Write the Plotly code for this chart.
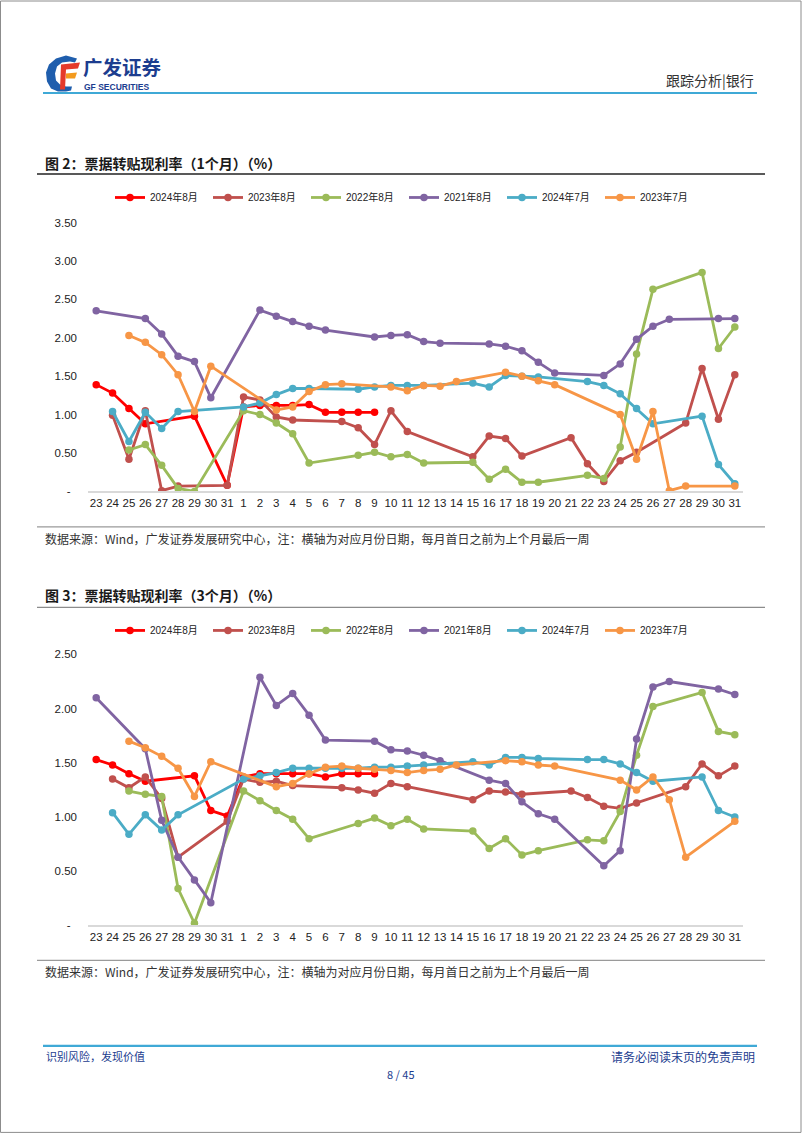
import plotly.graph_objects as go

W, H = 802, 1133

day_labels = ["23", "24", "25", "26", "27", "28", "29", "30", "31",
              "1", "2", "3", "4", "5", "6", "7", "8", "9", "10", "11", "12", "13", "14", "15",
              "16", "17", "18", "19", "20", "21", "22", "23", "24", "25", "26", "27", "28",
              "29", "30", "31"]
series_names = ["2024年8月", "2023年8月", "2022年8月", "2021年8月", "2024年7月", "2023年7月"]
series_colors = ["#FF0000", "#C0504D", "#9BBB59", "#8064A2", "#4BACC6", "#F79646"]
N = None

# ---- 图2: 1个月 ----
m1_2024_08 = [1.39, 1.28, 1.08, 0.88, N, N, 0.98, N, 0.08,
              1.10, 1.12, 1.12, 1.12, 1.13, 1.03, 1.03, 1.03, 1.03, N, N, N, N, N, N,
              N, N, N, N, N, N, N, N, N, N, N, N, N, N, N, N]
m1_2023_08 = [N, 0.99, 0.42, 1.05, 0.01, 0.07, N, N, 0.08,
              1.23, 1.19, 0.97, 0.93, N, N, 0.91, 0.83, 0.61, 1.05, 0.78, N, N, N, 0.45,
              0.72, 0.69, 0.46, N, N, 0.70, 0.36, 0.13, 0.40, 0.51, N, N, 0.89, 1.60, 0.94, 1.52]
m1_2022_08 = [N, N, 0.54, 0.61, 0.34, 0.04, 0.00, N, N,
              1.05, 1.00, 0.89, 0.75, 0.37, N, N, 0.47, 0.51, 0.45, 0.48, 0.37, N, N, 0.38,
              0.16, 0.29, 0.12, 0.12, N, N, 0.21, 0.17, 0.58, 1.79, 2.63, N, N, 2.85, 1.86, 2.14]
m1_2021_08 = [2.35, N, N, 2.25, 2.05, 1.76, 1.69, 1.22, N,
              N, 2.36, 2.28, 2.21, 2.15, 2.10, N, N, 2.01, 2.03, 2.04, 1.95, 1.93, N, N,
              1.92, 1.89, 1.83, 1.68, 1.54, N, N, 1.51, 1.66, 1.98, 2.15, 2.24, N, N, 2.25, 2.25]
m1_2024_07 = [N, 1.04, 0.65, 1.03, 0.82, 1.04, N, N, N,
              1.10, 1.15, 1.26, 1.34, 1.34, N, N, 1.33, 1.36, 1.38, 1.38, 1.38, N, N, 1.41,
              1.36, 1.51, 1.50, 1.49, N, N, 1.43, 1.38, 1.27, 1.08, 0.88, N, N, 0.98, 0.35, 0.10]
m1_2023_07 = [N, N, 2.03, 1.94, 1.78, 1.52, 1.04, 1.63, N,
              N, N, 1.06, 1.10, 1.30, 1.39, 1.40, N, N, 1.36, 1.31, 1.38, 1.37, 1.43, N,
              N, 1.55, 1.50, 1.44, 1.39, N, N, N, 1.00, 0.42, 1.04, 0.01, 0.07, N, N, 0.07]

# ---- 图3: 3个月 ----
m3_2024_08 = [1.53, 1.48, 1.40, 1.33, N, N, 1.38, 1.06, 1.01,
              1.37, 1.40, 1.40, 1.40, 1.40, 1.37, 1.40, 1.40, 1.40, N, N, N, N, N, N,
              N, N, N, N, N, N, N, N, N, N, N, N, N, N, N, N]
m3_2023_08 = [N, 1.35, 1.27, 1.37, 1.17, 0.63, N, N, 0.96,
              1.35, 1.32, 1.33, 1.29, N, N, 1.27, 1.25, 1.22, 1.31, 1.28, N, N, N, 1.16,
              1.24, 1.23, 1.21, N, N, 1.24, 1.18, 1.10, 1.08, 1.13, N, N, 1.28, 1.49, 1.38, 1.47]
m3_2022_08 = [N, N, 1.24, 1.21, 1.19, 0.34, 0.02, N, N,
              1.24, 1.15, 1.06, 0.98, 0.80, N, N, 0.94, 0.99, 0.92, 0.98, 0.89, N, N, 0.87,
              0.71, 0.80, 0.65, 0.69, N, N, 0.79, 0.78, 1.05, 1.57, 2.02, N, N, 2.15, 1.79, 1.76]
m3_2021_08 = [2.10, N, N, 1.63, 0.97, 0.63, 0.42, 0.21, N,
              N, 2.29, 2.03, 2.14, 1.94, 1.71, N, N, 1.70, 1.62, 1.61, 1.57, 1.52, N, N,
              1.34, 1.31, 1.14, 1.03, 0.98, N, N, 0.55, 0.69, 1.72, 2.20, 2.25, N, N, 2.18, 2.13]
m3_2024_07 = [N, 1.04, 0.84, 1.02, 0.88, 1.02, N, N, N,
              1.35, 1.38, 1.41, 1.45, 1.45, 1.45, 1.45, 1.45, 1.46, 1.46, 1.47, 1.48, N, N, 1.51,
              1.48, 1.55, 1.55, 1.54, N, N, 1.53, 1.53, 1.49, 1.41, 1.33, N, N, 1.37, 1.06, 1.00]
m3_2023_07 = [N, N, 1.70, 1.64, 1.56, 1.45, 1.19, 1.51, N,
              N, N, 1.28, 1.31, 1.40, 1.46, 1.47, 1.45, 1.44, 1.43, 1.41, 1.43, 1.44, 1.48, N,
              N, 1.52, 1.51, 1.48, 1.47, N, N, N, 1.34, 1.25, 1.37, 1.16, 0.63, N, N, 0.96]

chart1_series = [m1_2024_08, m1_2023_08, m1_2022_08, m1_2021_08, m1_2024_07, m1_2023_07]
chart2_series = [m3_2024_08, m3_2023_08, m3_2022_08, m3_2021_08, m3_2024_07, m3_2023_07]
y1_ticks = [0, 0.5, 1.0, 1.5, 2.0, 2.5, 3.0, 3.5]
y2_ticks = [0, 0.5, 1.0, 1.5, 2.0, 2.5]


def px(x):
    return x / W


def py(y):
    # page pixel (from top) -> paper fraction, compensating the slight vertical fit of the capture
    return 1 - ((y - 5.5) / 0.9895) / H


xs = list(range(len(day_labels)))
fig = go.Figure()

for k, (name, color) in enumerate(zip(series_names, series_colors)):
    fig.add_trace(go.Scatter(
        x=xs, y=chart1_series[k], name=name, mode="lines+markers", connectgaps=True,
        line=dict(color=color, width=2.8), marker=dict(color=color, size=7.5),
        xaxis="x", yaxis="y", legend="legend"))
for k, (name, color) in enumerate(zip(series_names, series_colors)):
    fig.add_trace(go.Scatter(
        x=xs, y=chart2_series[k], name=name, mode="lines+markers", connectgaps=True,
        line=dict(color=color, width=2.8), marker=dict(color=color, size=7.5),
        xaxis="x2", yaxis="y2", legend="legend2"))

tick_font = dict(family="Liberation Sans, Arial, sans-serif", size=11.5, color="#222222")


def ylabels(vals):
    return ["-\u2007" if v == 0 else f"{v:.2f}" for v in vals]


xaxis_common = dict(range=[-0.5, len(day_labels) - 0.5], tickmode="array", tickvals=xs,
                    ticktext=day_labels, showgrid=False, zeroline=False, showline=True,
                    linecolor="#D9D9D9", linewidth=2, ticks="", tickfont=tick_font,
                    fixedrange=True)
yaxis_common = dict(showgrid=False, zeroline=False, showline=False, ticks="",
                    tickfont=tick_font, fixedrange=True, ticklabelstandoff=10)

leg_font = dict(family="Liberation Sans, Noto Sans CJK SC", size=10, color="#222")
fig.update_layout(
    width=W, height=H, margin=dict(l=0, r=0, t=0, b=0),
    paper_bgcolor="white", plot_bgcolor="white",
    xaxis=dict(domain=[px(88), px(743)], anchor="y", **xaxis_common),
    yaxis=dict(domain=[py(491), py(222)], anchor="x", range=[0, 3.5], tickmode="array",
               tickvals=y1_ticks, ticktext=ylabels(y1_ticks), **yaxis_common),
    xaxis2=dict(domain=[px(88), px(743)], anchor="y2", **xaxis_common),
    yaxis2=dict(domain=[py(925), py(654)], anchor="x2", range=[0, 2.5], tickmode="array",
                tickvals=y2_ticks, ticktext=ylabels(y2_ticks), **yaxis_common),
    legend=dict(orientation="h", x=px(110), xanchor="left", y=py(197), yanchor="middle",
                font=leg_font, entrywidth=53, entrywidthmode="pixels", itemwidth=30,
                bgcolor="rgba(0,0,0,0)"),
    legend2=dict(orientation="h", x=px(110), xanchor="left", y=py(630), yanchor="middle",
                 font=leg_font, entrywidth=53, entrywidthmode="pixels", itemwidth=30,
                 bgcolor="rgba(0,0,0,0)"),
    showlegend=True,
)

shapes = []
# page border
shapes.append(dict(type="rect", xref="paper", yref="paper", x0=px(0.5), x1=px(801), y0=py(1132), y1=py(0.5),
                   line=dict(color="#8C8C8C", width=1), fillcolor="rgba(0,0,0,0)"))
# header / footer blue rules
for yy in (92.5, 1045.5):
    shapes.append(dict(type="line", xref="paper", yref="paper", x0=px(43), x1=px(757), y0=py(yy), y1=py(yy),
                       line=dict(color="#3FA9D6", width=2.2)))
# title rules and bottom rules
shapes.append(dict(type="line", xref="paper", yref="paper", x0=px(37), x1=px(765), y0=py(173.5), y1=py(173.5),
                   line=dict(color="#222222", width=1.3)))
shapes.append(dict(type="line", xref="paper", yref="paper", x0=px(37), x1=px(765), y0=py(607), y1=py(607),
                   line=dict(color="#8C8C8C", width=1.3)))
for yy in (526.5, 960):
    shapes.append(dict(type="line", xref="paper", yref="paper", x0=px(37), x1=px(765), y0=py(yy), y1=py(yy),
                       line=dict(color="#9A9A9A", width=1.2)))


# logo icon (approximate)
def path(pts):
    s = "M " + " L ".join(f"{px(a):.5f},{py(b):.5f}" for a, b in pts) + " Z"
    return s


blue_arc = [(77, 58), (66, 55), (56, 58), (49, 64), (46, 72), (47, 81), (51, 88), (58, 91), (66, 91),
            (71, 90), (72, 86), (66, 86), (60, 84), (56, 80), (55, 73), (57, 66), (62, 62), (70, 61), (75, 62)]
shapes.append(dict(type="path", xref="paper", yref="paper", path=path(blue_arc),
                   fillcolor="#1F5EAD", line=dict(width=0)))
shapes.append(dict(type="path", xref="paper", yref="paper",
                   path=path([(61, 64), (80, 62), (78, 68), (66, 69), (65, 89), (60, 89)]),
                   fillcolor="#E53A2A", line=dict(width=0)))
shapes.append(dict(type="path", xref="paper", yref="paper",
                   path=path([(66, 73), (77, 72), (75, 78), (66, 78)]),
                   fillcolor="#F39A1E", line=dict(width=0)))
fig.update_layout(shapes=shapes)

cjk = "Noto Sans CJK SC, sans-serif"
ann = []


def text(x, y, s, size, color, anchor="left", family=cjk):
    ann.append(dict(xref="paper", yref="paper", x=px(x), y=py(y), text=s, showarrow=False,
                    xanchor=anchor, yanchor="middle", font=dict(family=family, size=size, color=color)))


text(81, 66.5, "<b>广发证券</b>", 19.5, "#1C3D8F")
text(82, 86.5, "<b>GF SECURITIES</b>", 8.5, "#1C3D8F", family="Liberation Sans, Arial")
text(756, 80, "跟踪分析|银行", 14, "#333333", anchor="right")
text(43, 163, "<b>图 2：票据转贴现利率（1个月）（%）</b>", 14, "#1A1A1A")
text(43, 595, "<b>图 3：票据转贴现利率（3个月）（%）</b>", 14, "#1A1A1A")
src = "数据来源：Wind，广发证券发展研究中心，注：横轴为对应月份日期，每月首日之前为上个月最后一周"
text(43, 538, src, 12, "#333333")
text(43, 971, src, 12, "#333333")
text(44, 1056, "识别风险，发现价值", 11, "#1C3D8F")
text(757, 1056, "请务必阅读末页的免责声明", 12, "#1C3D8F", anchor="right")
text(401, 1074, "8 / 45", 11, "#1C3D8F", anchor="center")
fig.update_layout(annotations=ann)

fig.write_html(
    "out.html",
    config={"displayModeBar": False},
    post_script=("document.body.style.margin='0';"
                 "document.documentElement.style.overflow='hidden';"
                 "document.body.style.overflow='hidden';"
                 "var d=document.getElementById('{plot_id}');"
                 "d.style.position='fixed';d.style.top='0px';d.style.left='0px';"),
)
